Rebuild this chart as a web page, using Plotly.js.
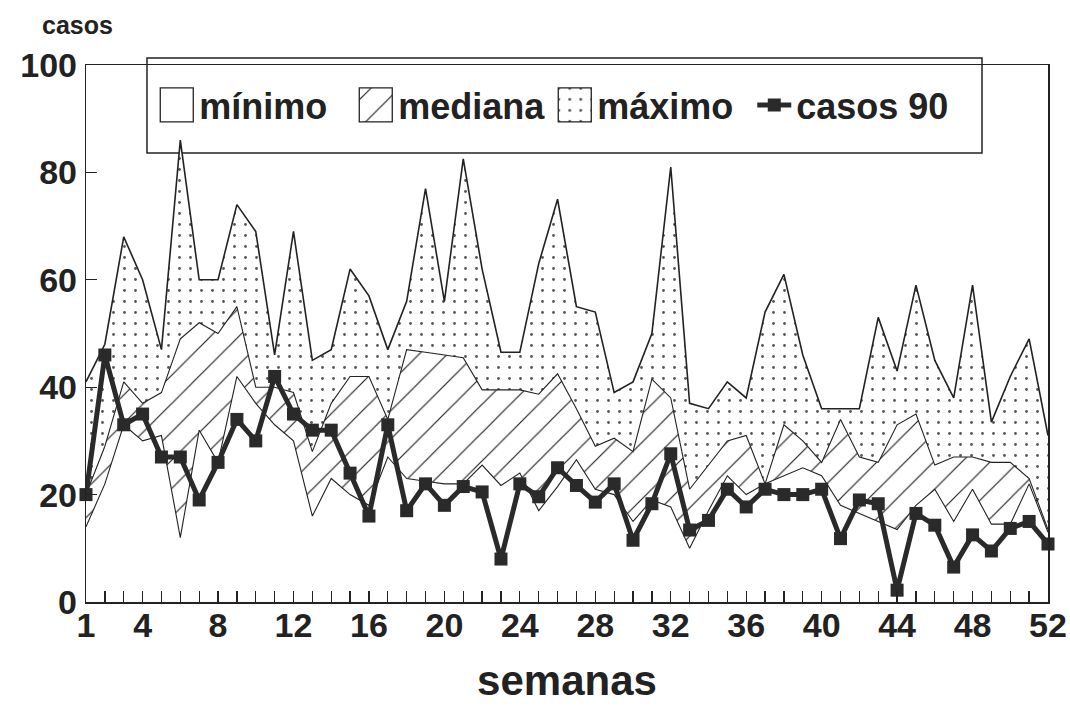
<!DOCTYPE html>
<html><head><meta charset="utf-8">
<script src="https://cdn.plot.ly/plotly-3.0.1.min.js"></script>
<style>html,body{margin:0;padding:0;background:#fff}</style>
</head><body>
<div id="chart" style="width:1070px;height:711px"></div>
<script>
const semanas = [1,2,3,4,5,6,7,8,9,10,11,12,13,14,15,16,17,18,19,20,21,22,23,24,25,26,27,28,29,30,31,32,33,34,35,36,37,38,39,40,41,42,43,44,45,46,47,48,49,50,51,52];
const maximo = [41,48,68,60,47,86,60,60,74,69,46,69,45,47,62,57,47,56,77,56,82.5,62,46.5,46.5,63,75,55,54,39,41,50,81,37,36,41,38,54,61,46,36,36,36,53,43,59,45,38,59,33.5,42,49,31];
const mediana = [20,29,41,37,39,49,52,50,55,40,40,39,28,37,42,42,34,47,46.5,46,45.5,39.5,39.5,39.5,38.7,42.5,36,29,30.5,28,41.5,38,21,25.5,30,31,22,33,30,26,34,27,26,33,35,25.5,27,27,26,26,23,13.5];
const minimo = [14,22,33,30,31,12,32,26,42,37,33,30,16,23,20,18,27,23,22.5,22,22,25.5,21.7,24,17,21.5,26.5,21,20,15,19,17.7,10,17,23.5,20,22,23.5,25,23.5,18,16.5,15,13.5,18,21,15,21,14.5,14.5,22,13];
const casos90 = [20,46,33,35,27,27,19,26,34,30,42,35,32,32,24,16,33,17,22,18,21.5,20.5,8,22,19.6,25,21.7,18.6,22,11.5,18.3,27.6,13.4,15.2,21,17.7,21,20,20,21,11.8,19,18.3,2.2,16.5,14.3,6.5,12.5,9.5,13.7,15,10.8];
const xTickLabels = [1,4,8,12,16,20,24,28,32,36,40,44,48,52];
const yTickVals = [0,20,40,60,80,100];
const yTickText = ['0','20','40','60','80','100'];

const FONT = 'Liberation Sans, Arial, Helvetica, sans-serif';
const INK = '#222';

// one tick per week, labelled only at the weeks listed in xTickLabels
const xTickText = semanas.map(function(w){ return xTickLabels.indexOf(w) >= 0 ? String(w) : ''; });

const traces = [
  {name:'máximo', x:semanas, y:maximo, type:'scatter', mode:'lines', fill:'tozeroy',
   line:{color:INK, width:1.6}, fillcolor:'white',
   fillpattern:{shape:'.', size:11, solidity:0.05, fgcolor:'#555', bgcolor:'white'},
   legendrank:3},
  {name:'mediana', x:semanas, y:mediana, type:'scatter', mode:'lines', fill:'tozeroy',
   line:{color:INK, width:1.1}, fillcolor:'white',
   fillpattern:{shape:'/', size:20, solidity:0.06, fgcolor:'#222', bgcolor:'white'},
   legendrank:2},
  {name:'mínimo', x:semanas, y:minimo, type:'scatter', mode:'lines', fill:'tozeroy',
   line:{color:INK, width:1.1}, fillcolor:'white', legendrank:1},
  {name:'casos 90', x:semanas, y:casos90, type:'scatter', mode:'lines+markers',
   xaxis:'x2', yaxis:'y2',
   line:{color:'#2a2a2a', width:5}, marker:{symbol:'square', size:13, color:'#2a2a2a'},
   cliponaxis:false, legendrank:4}
];

const layout = {
  width:1070, height:711,
  margin:{l:86, r:22, t:65, b:109},
  paper_bgcolor:'white', plot_bgcolor:'white',
  font:{family:FONT, color:INK, weight:'bold'},
  showlegend:true,
  legend:{orientation:'h', x:0.072, y:0.9255, xanchor:'left', yanchor:'middle',
    bgcolor:'rgba(0,0,0,0)', borderwidth:0, itemwidth:34,
    entrywidth:150, entrywidthmode:'pixels',
    font:{family:FONT, size:36, color:INK, weight:'bold'}, traceorder:'normal'},
  // base axes: frame and inside tick marks only
  xaxis:{range:[1,52], tickmode:'array', tickvals:semanas, showticklabels:false,
    ticks:'inside', ticklen:11, tickwidth:1.3, tickcolor:INK, layer:'above traces',
    showline:true, linecolor:INK, linewidth:1.5, mirror:true,
    showgrid:false, zeroline:false},
  yaxis:{range:[0,100], tickmode:'array', tickvals:yTickVals, showticklabels:false,
    ticks:'inside', ticklen:11, tickwidth:1.3, tickcolor:INK, layer:'above traces',
    showline:true, linecolor:INK, linewidth:1.5, mirror:true,
    showgrid:false, zeroline:false},
  // overlaid axes carrying the large labels and the casos 90 line
  xaxis2:{overlaying:'x', anchor:'y2', side:'bottom', range:[1,52],
    tickmode:'array', tickvals:semanas, ticktext:xTickText, ticks:'',
    showline:false, showgrid:false, zeroline:false, ticklabelstandoff:0,
    tickfont:{family:FONT, size:34, color:INK, weight:'bold'},
    title:{text:'semanas', font:{family:FONT, size:42, color:INK, weight:'bold'}, standoff:22}},
  yaxis2:{overlaying:'y', anchor:'x2', side:'left', range:[0,100],
    tickmode:'array', tickvals:yTickVals, ticktext:yTickText, ticks:'',
    showline:false, showgrid:false, zeroline:false, ticklabelstandoff:8,
    tickfont:{family:FONT, size:34, color:INK, weight:'bold'}},
  shapes:[{type:'rect', xref:'paper', yref:'paper', x0:0.0634, x1:0.9314, y0:0.836, y1:1.013,
    fillcolor:'white', line:{color:INK, width:1.5}, layer:'below'}],
  annotations:[{text:'casos', xref:'paper', yref:'paper', x:-0.048, y:1.0745,
    xanchor:'left', yanchor:'middle', showarrow:false,
    font:{family:FONT, size:25, color:INK, weight:'bold'}}]
};

Plotly.newPlot('chart', traces, layout, {staticPlot:true, displayModeBar:false}).then(function(gd){
  // square legend swatches for the filled areas, as in the original key
  gd.querySelectorAll('.legend .traces').forEach(function(tr){
    var fill = tr.querySelector('.legendfill path');
    if (fill) {
      fill.setAttribute('d', 'M5,-17h33v34h-33z');
      fill.style.stroke = INK;
      fill.style.strokeWidth = '1.3px';
      tr.querySelectorAll('.legendlines path').forEach(function(p){ p.style.display = 'none'; });
    }
  });
});
</script>
</body></html>
